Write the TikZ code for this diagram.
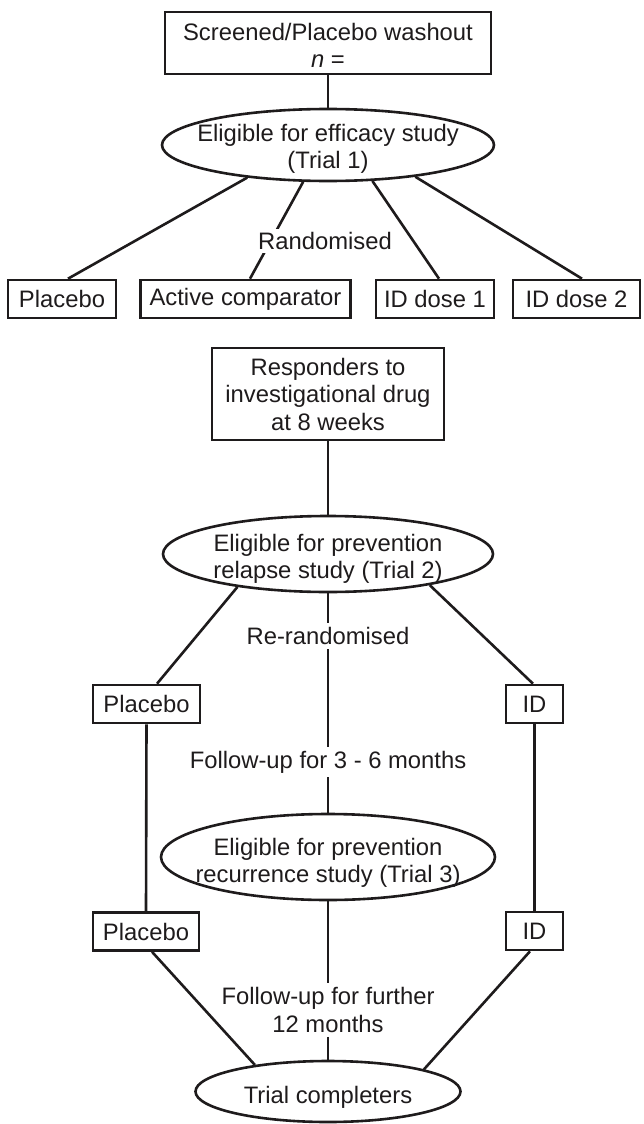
\documentclass[tikz,border=0pt]{standalone}
\usepackage{fontspec}
\setmainfont{Liberation Sans}
\usetikzlibrary{shapes.geometric}
\definecolor{ink}{RGB}{30,27,28}
\begin{document}
\begin{tikzpicture}[x=1pt,y=-1pt, line width=2.6pt, draw=ink,
  every node/.style={font=\fontsize{23.8}{27.5}\selectfont, text=ink},
  box/.style={draw=ink, rectangle, inner sep=0pt, minimum height=38pt, align=center},
  ell/.style={draw=ink, ellipse, inner sep=0pt, fill=white},
  txt/.style={align=center, inner sep=0pt},
  lab/.style={inner sep=3pt, align=center}]
\useasboundingbox (0,0) rectangle (643,1124);
% nodes
\node[box, minimum width=326pt, minimum height=62pt] (scr) at (328,43) {};
\node[txt] (scrt) at ([yshift=-2.5pt]scr.center) {Screened/Placebo washout\\\textit{n} =};
\node[ell, minimum width=332pt, minimum height=72pt] (e1) at (328,145) {};
\node[txt] (e1t) at ([yshift=-4pt]e1.center) {Eligible for efficacy study\\(Trial 1)};
\node[box, minimum width=108pt] (pl1) at (62,299) {Placebo};
\node[box, minimum width=210pt] (ac) at (245.5,299) {Active comparator};
\node[box, minimum width=118pt] (id1) at (435,299) {ID dose 1};
\node[box, minimum width=127pt] (id2) at (576.5,299) {ID dose 2};
\node[box, minimum width=232pt, minimum height=92pt] (resp) at (328,394) {Responders to\\investigational drug\\at 8 weeks};
\node[ell, minimum width=330pt, minimum height=76pt] (e2) at (328,554) {};
\node[txt] (e2t) at ([yshift=-5pt]e2.center) {Eligible for prevention\\relapse study (Trial 2)};
\node[box, minimum width=107pt] (pl2) at (146.5,704) {Placebo};
\node[box, minimum width=57pt] (idb) at (534.5,704) {ID};
\node[ell, minimum width=334pt, minimum height=86pt] (e3) at (328,857) {};
\node[txt] (e3t) at ([yshift=-6pt]e3.center) {Eligible for prevention\\recurrence study (Trial 3)};
\node[box, minimum width=106pt] (pl3) at (146,931.5) {Placebo};
\node[box, minimum width=57pt] (idc) at (534.5,931) {ID};
\node[ell, minimum width=265pt, minimum height=61pt] (e4) at (328,1091.5) {};
\node[txt] (e4t) at ([yshift=-6pt]e4.center) {Trial completers};
% the line that passes under the Randomised label
\draw (e1.236) -- ([xshift=4.5pt]ac.north);
% labels
\node[lab, fill=white] (rnd) at (325,241) {Randomised};
\node[lab] (rer) at (328,636) {Re-randomised};
\node[lab] (fu1) at (328,762) {Follow-up for 3 - 6 months};
\node[lab] (fu2) at (328,1010) {Follow-up for further\\12 months};
% connectors
\draw (scr.south) -- (e1.north);
\draw (e1.202) -- ([xshift=6pt]pl1.north);
\draw (e1.321) -- ([xshift=4pt]id1.north);
\draw (e1.340) -- ([xshift=5.5pt]id2.north);
\draw (resp.south) -- (e2.north);
\draw (e2.200) -- ([xshift=10.5pt]pl2.north);
\draw (e2.343) -- ([xshift=-1.5pt]idb.north);
\draw (e2.south) -- (rer.north);
\draw (rer.south) -- (fu1.north);
\draw (fu1.south) -- (e3.north);
\draw (pl2.south) -- (pl3.north);
\draw (idb.south) -- (idc.north);
\draw (e3.south) -- (fu2.north);
\draw (fu2.south) -- (e4.north);
\draw ([xshift=6pt]pl3.south) -- (e4.160);
\draw ([xshift=-4.5pt]idc.south) -- (e4.13);
\end{tikzpicture}
\end{document}
